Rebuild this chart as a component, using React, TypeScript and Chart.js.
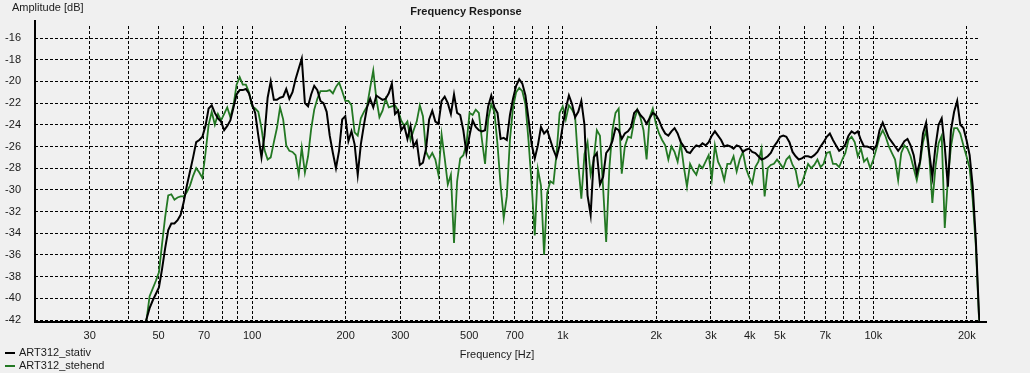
import { useEffect, useRef } from 'react';
import { Chart, registerables } from 'chart.js';

Chart.register(...registerables);

// ---------- data ----------
const FREQ_HZ = [
  44.67, 45.71, 46.77, 47.86, 48.98, 50.12, 51.29, 52.48, 53.70, 54.95,
  56.23, 57.54, 58.88, 60.26, 61.66, 63.10, 64.57, 66.07, 67.61, 69.18,
  70.79, 72.44, 74.13, 75.86, 77.62, 79.43, 81.28, 83.18, 85.11, 87.10,
  89.13, 91.20, 93.33, 95.50, 97.72, 100.0, 102.3, 104.7, 107.2, 109.6,
  112.2, 114.8, 117.5, 120.2, 123.0, 125.9, 128.8, 131.8, 134.9, 138.0,
  141.3, 144.5, 147.9, 151.4, 154.9, 158.5, 162.2, 166.0, 169.8, 173.8,
  177.8, 182.0, 186.2, 190.5, 195.0, 199.5, 204.2, 208.9, 213.8, 218.8,
  223.9, 229.1, 234.4, 239.9, 245.5, 251.2, 257.0, 263.0, 269.2, 275.4,
  281.8, 288.4, 295.1, 302.0, 309.0, 316.2, 323.6, 331.1, 338.8, 346.7,
  354.8, 363.1, 371.5, 380.2, 389.0, 398.1, 407.4, 416.9, 426.6, 436.5,
  446.7, 457.1, 467.7, 478.6, 489.8, 501.2, 512.9, 524.8, 537.0, 549.5,
  562.3, 575.4, 588.8, 602.6, 616.6, 631.0, 645.7, 660.7, 676.1, 691.8,
  707.9, 724.4, 741.3, 758.6, 776.2, 794.3, 812.8, 831.8, 851.1, 871.0,
  891.3, 912.0, 933.3, 955.0, 977.2, 1000, 1023, 1047, 1072, 1096,
  1122, 1148, 1175, 1202, 1230, 1259, 1288, 1318, 1349, 1380,
  1413, 1445, 1479, 1514, 1549, 1585, 1622, 1660, 1698, 1738,
  1778, 1820, 1862, 1905, 1950, 1995, 2042, 2089, 2138, 2188,
  2239, 2291, 2344, 2399, 2455, 2512, 2570, 2630, 2692, 2754,
  2818, 2884, 2951, 3020, 3090, 3162, 3236, 3311, 3388, 3467,
  3548, 3631, 3715, 3802, 3890, 3981, 4074, 4169, 4266, 4365,
  4467, 4571, 4677, 4786, 4898, 5012, 5129, 5248, 5370, 5495,
  5623, 5754, 5888, 6026, 6166, 6310, 6457, 6607, 6761, 6918,
  7079, 7244, 7413, 7586, 7762, 7943, 8128, 8318, 8511, 8710,
  8913, 9120, 9333, 9550, 9772, 10000, 10230, 10470, 10720, 10960,
  11220, 11480, 11750, 12020, 12300, 12590, 12880, 13180, 13490, 13800,
  14130, 14450, 14790, 15140, 15490, 15850, 16220, 16600, 16980, 17380,
  17780, 18200, 18620, 19050, 19500, 19950, 20420, 20890, 21380, 21880,
  22390,
];

const STATIV_DB = [
  -43.0, -41.9, -40.9, -40.2, -39.6, -39.0, -37.3, -35.4, -33.7, -33.1,
  -33.1, -32.8, -32.3, -31.1, -29.6, -28.3, -27.0, -25.6, -25.4, -25.1,
  -24.1, -22.5, -22.2, -22.9, -23.4, -23.7, -24.5, -24.1, -23.6, -22.4,
  -21.2, -20.8, -20.8, -20.7, -21.1, -22.1, -22.9, -25.0, -27.0, -25.0,
  -21.5, -20.0, -21.7, -21.7, -21.5, -21.4, -20.7, -21.6, -21.0, -19.8,
  -18.8, -17.9, -22.0, -22.3, -21.2, -20.4, -20.8, -21.8, -22.0, -22.8,
  -25.0, -26.6, -28.0, -26.4, -23.5, -23.2, -25.5, -24.6, -25.8, -28.6,
  -25.8, -24.0, -22.4, -21.6, -22.4, -21.3, -21.5, -21.7, -21.6, -21.1,
  -20.2, -23.0, -22.7, -24.5, -24.1, -25.3, -24.1, -26.0, -25.5, -27.7,
  -27.5, -26.2, -23.5, -22.7, -23.7, -23.9, -21.8, -21.4, -22.0, -23.0,
  -21.2, -22.9, -23.1, -24.5, -26.6, -25.0, -23.6, -24.2, -24.5, -24.6,
  -24.5, -22.3, -21.3, -22.4, -22.9, -25.3, -25.2, -25.4, -23.1, -21.6,
  -20.4, -19.8, -20.2, -21.3, -23.5, -25.8, -27.1, -25.9, -24.2, -24.8,
  -24.5, -25.4, -26.3, -27.0, -25.9, -24.1, -22.5, -21.3, -22.1, -23.3,
  -22.8, -21.8, -24.0, -30.5, -32.3, -27.0, -26.6, -29.5, -28.8, -26.6,
  -26.2, -25.5, -24.3, -24.5, -25.3, -24.8, -24.6, -24.2, -22.9, -22.6,
  -23.1, -23.4, -23.9, -23.4, -22.9, -23.1, -23.6, -24.3, -24.8, -25.0,
  -24.6, -24.3, -24.8, -25.6, -26.0, -26.5, -26.6, -26.2, -25.9, -26.0,
  -25.7, -25.9, -25.6, -25.0, -24.6, -25.0, -25.4, -26.0, -25.9, -26.0,
  -26.2, -25.9, -26.0, -26.5, -26.3, -26.2, -26.5, -26.6, -26.9, -27.2,
  -27.1, -26.9, -26.6, -26.0, -25.6, -25.1, -25.0, -25.1, -25.6, -26.5,
  -26.9, -27.2, -27.1, -26.9, -26.9, -27.0, -26.8, -26.5, -26.0, -25.6,
  -25.1, -24.8, -25.4, -25.9, -26.4, -26.2, -25.8, -25.0, -24.6, -24.8,
  -24.6, -25.4, -26.0, -26.0, -26.1, -26.3, -25.9, -24.5, -23.8, -24.5,
  -25.2, -25.6, -26.0, -26.4, -26.0, -25.5, -25.3, -25.9, -26.8, -28.5,
  -27.4, -24.8, -23.8, -26.6, -28.8, -26.0, -24.0, -23.4, -26.0, -29.7,
  -24.5, -22.8, -21.8, -24.0, -24.3, -25.4, -26.8, -29.7, -34.6, -41.4,
  -45.0,
];

const STEHEND_DB = [
  -43.0, -42.0, -39.8, -39.1, -38.4, -37.6, -35.0, -32.5, -30.5, -30.4,
  -30.9, -30.7, -30.6, -30.6, -30.2, -29.6, -28.7, -28.0, -28.4, -28.9,
  -26.6, -24.0, -22.8, -24.0, -23.0, -23.6, -23.0, -22.4, -23.3, -22.2,
  -20.3, -19.6, -20.3, -20.3, -21.0, -22.3, -22.5, -22.8, -24.3, -26.3,
  -27.2, -27.0, -25.6, -24.3, -22.4, -23.5, -25.9, -26.4, -26.5, -26.8,
  -28.6, -26.1, -28.4, -26.9, -24.4, -22.6, -21.6, -20.9, -20.9, -20.9,
  -20.8, -21.1, -20.5, -20.1, -20.9, -21.8, -21.8, -22.2, -24.7, -25.0,
  -23.4, -22.8, -22.3, -20.6, -19.0, -21.6, -23.3, -22.7, -21.6, -22.4,
  -22.3, -22.2, -22.7, -23.6, -24.1, -23.7, -25.4, -24.5, -23.7, -22.2,
  -23.2, -26.5, -27.1, -26.6, -27.2, -28.6, -24.9, -27.1, -29.5, -28.6,
  -34.9, -29.2, -27.1, -26.8, -25.8, -22.9, -23.1, -22.6, -22.9, -25.4,
  -27.6, -23.5, -22.1, -22.8, -25.8, -29.6, -32.6, -30.6, -25.4, -22.4,
  -21.0, -20.6, -20.9, -22.1, -25.5, -29.5, -34.2, -28.1, -29.6, -36.0,
  -30.3, -29.2, -29.4, -26.7, -22.9, -22.3, -23.5, -22.2, -22.6, -23.2,
  -27.6, -30.8, -26.7, -25.6, -28.6, -27.2, -24.5, -25.0, -29.8, -34.8,
  -28.0, -24.5, -22.9, -22.5, -28.5, -26.0, -25.1, -25.2, -23.6, -22.6,
  -23.3, -24.5, -27.2, -23.3, -22.5, -23.9, -24.8, -25.4, -25.9, -27.2,
  -26.0, -26.5, -27.4, -25.7, -27.9, -29.7, -27.6, -28.2, -28.6, -27.7,
  -28.0, -27.4, -26.8, -29.0, -25.9, -27.4, -28.0, -29.1, -27.6, -27.6,
  -26.9, -28.3, -27.2, -26.5, -28.0, -28.8, -29.4, -27.9, -27.4, -26.2,
  -30.6, -28.0, -27.7, -27.6, -27.2, -27.6, -28.0, -27.2, -26.9, -27.7,
  -28.2, -29.7, -29.4, -28.5, -27.6, -28.0, -27.7, -27.2, -27.9, -27.6,
  -26.6, -26.5, -27.6, -27.6, -27.9, -27.2, -26.6, -25.4, -25.1, -25.6,
  -26.9, -26.2, -27.4, -27.1, -28.0, -27.2, -26.2, -25.1, -24.5, -25.1,
  -26.0, -26.6, -27.2, -29.1, -26.6, -25.9, -26.2, -26.9, -28.0, -29.1,
  -27.6, -25.6, -24.5, -26.9, -31.2, -27.9, -25.7, -25.0, -33.5, -29.0,
  -26.0, -24.3, -24.3, -24.8, -25.9, -26.9, -28.0, -30.9, -35.2, -41.7,
  -45.0,
];

const X_GRID_HZ = [
  30, 40, 50, 60, 70, 80, 90, 100, 200, 300, 400, 500, 600, 700, 800, 900,
  1000, 2000, 3000, 4000, 5000, 6000, 7000, 8000, 9000, 10000, 20000,
];
const X_TICK_LABELS: Record<number, string> = {
  30: '30', 50: '50', 70: '70', 100: '100', 200: '200', 300: '300', 500: '500',
  700: '700', 1000: '1k', 2000: '2k', 3000: '3k', 4000: '4k', 5000: '5k',
  7000: '7k', 10000: '10k', 20000: '20k',
};
const Y_TICKS_DB = [-42, -40, -38, -36, -34, -32, -30, -28, -26, -24, -22, -20, -18, -16];

const SERIES_NAMES = ['ART312_stativ', 'ART312_stehend'];
const SERIES_COLORS = ['#000000', '#237823'];

const TITLE = 'Frequency Response';
const X_TITLE = 'Frequency [Hz]';
const Y_TITLE = 'Amplitude [dB]';

// ---------- style ----------
const BG = '#f0f0f0';
const TEXT = '#1a1a1a';
const FONT = '"Liberation Sans", Arial, Helvetica, sans-serif';

const bgPlugin = {
  id: 'bgFill',
  beforeDraw(chart: any) {
    const { ctx, width, height } = chart;
    ctx.save();
    ctx.fillStyle = BG;
    ctx.fillRect(0, 0, width, height);
    ctx.restore();
  },
};

const decorPlugin = {
  id: 'decor',
  afterDraw(chart: any) {
    const { ctx, chartArea } = chart;
    const { left, right, bottom } = chartArea;
    ctx.save();
    // axis lines
    ctx.strokeStyle = '#000';
    ctx.lineWidth = 2;
    ctx.beginPath();
    ctx.moveTo(left, 20);
    ctx.lineTo(left, bottom + 1);
    ctx.moveTo(left - 1, bottom);
    ctx.lineTo(right + 7, bottom);
    ctx.stroke();

    // texts
    ctx.fillStyle = TEXT;
    ctx.textBaseline = 'middle';
    ctx.font = `11px ${FONT}`;
    ctx.textAlign = 'left';
    ctx.fillText(Y_TITLE, 12, 8);
    ctx.textAlign = 'center';
    ctx.fillText(X_TITLE, 497, 355);
    ctx.font = `bold 11px ${FONT}`;
    ctx.fillText(TITLE, 466, 12);

    // legend
    ctx.font = `11px ${FONT}`;
    ctx.textAlign = 'left';
    SERIES_NAMES.forEach((name, i) => {
      const y = 353 + i * 13;
      ctx.strokeStyle = SERIES_COLORS[i];
      ctx.lineWidth = 2;
      ctx.beginPath();
      ctx.moveTo(5, y);
      ctx.lineTo(15, y);
      ctx.stroke();
      ctx.fillStyle = TEXT;
      ctx.fillText(name, 19, y);
    });
    ctx.restore();
  },
};

export default function App() {
  const canvasRef = useRef<HTMLCanvasElement | null>(null);

  useEffect(() => {
    document.body.style.margin = '0';
    document.body.style.background = BG;
    const canvas = canvasRef.current;
    if (!canvas) return;

    const chart = new Chart(canvas, {
      type: 'line',
      data: {
        datasets: [
          {
            label: SERIES_NAMES[0],
            data: FREQ_HZ.map((f, i) => ({ x: f, y: STATIV_DB[i] })),
            borderColor: SERIES_COLORS[0],
            backgroundColor: SERIES_COLORS[0],
            borderWidth: 2,
            pointRadius: 0,
            tension: 0,
            fill: false,
          },
          {
            label: SERIES_NAMES[1],
            data: FREQ_HZ.map((f, i) => ({ x: f, y: STEHEND_DB[i] })),
            borderColor: SERIES_COLORS[1],
            backgroundColor: SERIES_COLORS[1],
            borderWidth: 1.8,
            pointRadius: 0,
            tension: 0,
            fill: false,
          },
        ],
      },
      options: {
        responsive: false,
        animation: false,
        devicePixelRatio: 1,
        events: [],
        layout: { padding: { top: 26, right: 50, left: 0, bottom: 0 } },
        plugins: {
          legend: { display: false },
          tooltip: { enabled: false },
          title: { display: false },
        },
        scales: {
          x: {
            type: 'logarithmic',
            min: 20,
            max: 22050,
            afterBuildTicks: (s: any) => {
              s.ticks = X_GRID_HZ.map((v) => ({ value: v }));
            },
            afterFit: (s: any) => {
              s.height = 51;
            },
            ticks: {
              autoSkip: false,
              maxRotation: 0,
              minRotation: 0,
              padding: 7,
              color: TEXT,
              font: { size: 11, family: FONT },
              callback: (v: any) => X_TICK_LABELS[Number(v)] ?? '',
            },
            grid: { color: '#000', lineWidth: 1, drawTicks: false },
            border: { display: false, dash: [3, 2] },
          },
          y: {
            type: 'linear',
            min: -42.18,
            max: -14.89,
            afterBuildTicks: (s: any) => {
              s.ticks = Y_TICKS_DB.map((v) => ({ value: v }));
            },
            afterFit: (s: any) => {
              s.width = 35;
            },
            ticks: {
              padding: 14,
              color: TEXT,
              font: { size: 11, family: FONT },
              callback: (v: any) => String(v),
            },
            grid: { color: '#000', lineWidth: 1, drawTicks: false },
            border: { display: false, dash: [3, 2] },
          },
        },
      } as any,
      plugins: [bgPlugin, decorPlugin],
    });

    return () => chart.destroy();
  }, []);

  return (
    <div
      style={{
        position: 'fixed',
        left: 0,
        top: 0,
        width: 1030,
        height: 373,
        background: BG,
      }}
    >
      <canvas
        ref={canvasRef}
        width={1030}
        height={373}
        style={{ display: 'block', width: 1030, height: 373 }}
      />
    </div>
  );
}
